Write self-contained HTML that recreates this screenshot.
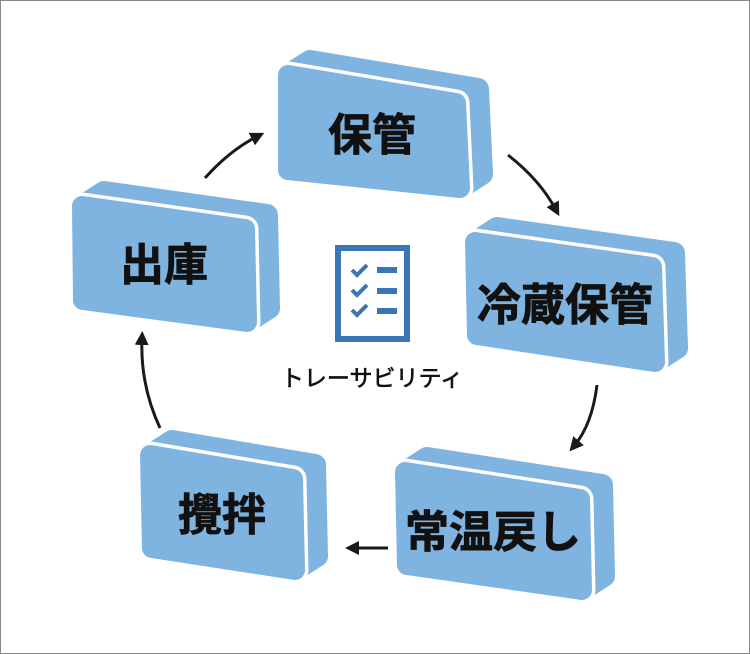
<!DOCTYPE html>
<html><head><meta charset="utf-8"><style>
html,body{margin:0;padding:0;background:#fff}
svg{display:block}
text{font-family:"Liberation Sans","Noto Sans CJK JP",sans-serif}
</style></head><body>
<svg width="750" height="654" viewBox="0 0 750 654" xmlns="http://www.w3.org/2000/svg">
<rect x="0.5" y="0.5" width="749" height="653" fill="#fff" stroke="#888" stroke-width="1"/>
<defs>
<marker id="ah" markerWidth="14" markerHeight="14" refX="7" refY="7" orient="auto" markerUnits="userSpaceOnUse" viewBox="0 0 14 14">
<path d="M0,0 L14,7 L0,14 Z" fill="#1a1a1a"/>
</marker>
</defs>
<g stroke-linejoin="round">
<!-- 保管 -->
<polygon points="310,61 478,89 482,174 460,188 288,170 288,75" fill="#7fb4e1" stroke="#7fb4e1" stroke-width="22"/>
<polygon points="288,75 456,103 460,188 288,170" fill="#7fb4e1" stroke="#fff" stroke-width="27"/>
<polygon points="288,75 456,103 460,188 288,170" fill="#7fb4e1" stroke="#7fb4e1" stroke-width="20"/>
<!-- 冷蔵保管 -->
<polygon points="497,228 674,253 677,348 655,362 477,335 475,242" fill="#7fb4e1" stroke="#7fb4e1" stroke-width="22"/>
<polygon points="475,242 652,267 655,362 477,335" fill="#7fb4e1" stroke="#fff" stroke-width="27"/>
<polygon points="475,242 652,267 655,362 477,335" fill="#7fb4e1" stroke="#7fb4e1" stroke-width="20"/>
<!-- 常温戻し -->
<polygon points="427,458 602,485 604,576 582,590 407,565 405,472" fill="#7fb4e1" stroke="#7fb4e1" stroke-width="22"/>
<polygon points="405,472 580,499 582,590 407,565" fill="#7fb4e1" stroke="#fff" stroke-width="27"/>
<polygon points="405,472 580,499 582,590 407,565" fill="#7fb4e1" stroke="#7fb4e1" stroke-width="20"/>
<!-- 攪拌 -->
<polygon points="172,441 315,465 317,556 295,570 152,548 150,455" fill="#7fb4e1" stroke="#7fb4e1" stroke-width="22"/>
<polygon points="150,455 293,479 295,570 152,548" fill="#7fb4e1" stroke="#fff" stroke-width="27"/>
<polygon points="150,455 293,479 295,570 152,548" fill="#7fb4e1" stroke="#7fb4e1" stroke-width="20"/>
<!-- 出庫 -->
<polygon points="104,192 267,215 269,308 247,322 83,300 82,206" fill="#7fb4e1" stroke="#7fb4e1" stroke-width="22"/>
<polygon points="82,206 245,229 247,322 83,300" fill="#7fb4e1" stroke="#fff" stroke-width="27"/>
<polygon points="82,206 245,229 247,322 83,300" fill="#7fb4e1" stroke="#7fb4e1" stroke-width="20"/>
</g>
<g font-weight="bold" font-size="44" fill="#111" text-anchor="middle" stroke="#111" stroke-width="0.8">
<text x="372" y="150">保管</text>
<text x="565" y="320">冷蔵保管</text>
<text x="493" y="547">常温戻し</text>
<text x="222" y="530">攪拌</text>
<text x="164" y="280">出庫</text>
</g>
<g fill="none" stroke="#1a1a1a" stroke-width="3" marker-end="url(#ah)">
<path d="M508,155 Q540,180 556,210"/>
<path d="M597,385 Q592,425 574,446"/>
<path d="M388,548 L352,548"/>
<path d="M160,428 Q140,385 142,338"/>
<path d="M205,178 Q230,150 258,136"/>
</g>
<!-- icon -->
<rect x="338" y="248" width="69" height="91" fill="#fff" stroke="#3a75b5" stroke-width="6"/>
<g fill="none" stroke="#3a75b5" stroke-width="4">
<path d="M352,270 l5,5 l10,-10"/><path d="M352,290 l5,5 l10,-10"/><path d="M352,310 l5,5 l10,-10"/>
</g>
<g fill="#3a75b5">
<rect x="377" y="267" width="20" height="6"/><rect x="377" y="288" width="20" height="6"/><rect x="377" y="308" width="20" height="6"/>
</g>
<text x="372" y="386" font-size="23" fill="#111" text-anchor="middle" stroke="#111" stroke-width="0.6">トレーサビリティ</text>
</svg>
</body></html>
